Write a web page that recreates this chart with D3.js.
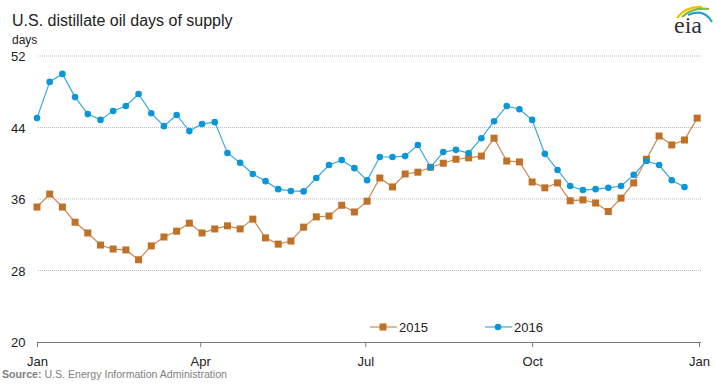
<!DOCTYPE html>
<html>
<head>
<meta charset="utf-8">
<script src="https://cdn.jsdelivr.net/npm/d3@7"></script>
<style>
  body { margin: 0; background: #fff; }
  svg { font-family: "Liberation Sans", Arial, sans-serif; display: block; }
</style>
</head>
<body>
<div id="chart"></div>
<script>
// weekly values, days of supply
const values2015 = [35.1, 36.55, 35.1, 33.4, 32.2, 30.85, 30.4, 30.3, 29.2, 30.75, 31.75, 32.4, 33.3,
  32.2, 32.65, 33.0, 32.65, 33.75, 31.65, 30.95, 31.3, 32.85, 34.0, 34.1, 35.3, 34.55, 35.75,
  38.35, 37.35, 38.8, 39.0, 39.55, 40.0, 40.45, 40.6, 40.8, 42.8, 40.25, 40.15, 37.9, 37.25,
  37.8, 35.8, 35.9, 35.55, 34.6, 36.1, 37.8, 40.45, 43.05, 42.05, 42.6, 45.05];
const values2016 = [45.05, 49.1, 50.0, 47.4, 45.5, 44.85, 45.85, 46.4, 47.75, 45.6, 44.15, 45.4, 43.6,
  44.4, 44.6, 41.15, 40.05, 38.8, 38.0, 37.1, 36.9, 36.85, 38.35, 39.8, 40.35, 39.45, 38.1,
  40.7, 40.7, 40.8, 42.05, 39.55, 41.25, 41.5, 41.15, 42.8, 44.7, 46.4, 46.05, 44.85, 41.05,
  39.25, 37.45, 37.0, 37.1, 37.25, 37.45, 38.7, 40.25, 39.8, 38.1, 37.35];
const yTicks = [20, 28, 36, 44, 52];
const monthLabels = ["Jan", "Apr", "Jul", "Oct", "Jan"];

const width = 719, height = 384;
const margin = {top: 56, right: 20, bottom: 42, left: 37};
const colors = {s2015: "#bf7127", s2015Line: "#c98a4e", s2016: "#0b96d8", s2016Line: "#3aa9de"};

const svg = d3.select("#chart").append("svg").attr("width", width).attr("height", height);

// both years share one Jan..Jan axis, points by week of year
const start = new Date(2015, 0, 1);
const weekDate = i => d3.timeDay.offset(start, i * 7);

const x = d3.scaleTime()
  .domain([start, new Date(2016, 0, 1)])
  .range([margin.left, 699]);
const y = d3.scaleLinear()
  .domain([20, 52])
  .range([height - margin.bottom, margin.top]);

// title and units
svg.append("text").attr("x", 12).attr("y", 26)
  .style("font-size", "16px").attr("fill", "#222")
  .text("U.S. distillate oil days of supply");
svg.append("text").attr("x", 12).attr("y", 44)
  .style("font-size", "12px").attr("fill", "#222")
  .text("days");

// grid lines
svg.append("g")
  .selectAll("line")
  .data(yTicks.filter(d => d > 20))
  .join("line")
  .attr("x1", 38).attr("x2", 702)
  .attr("y1", d => y(d)).attr("y2", d => y(d))
  .attr("stroke", "#bdbdbd").attr("stroke-dasharray", "1,1");

// y labels
svg.append("g")
  .selectAll("text")
  .data(yTicks)
  .join("text")
  .attr("x", 11).attr("y", d => y(d) + 5)
  .style("font-size", "13px").attr("fill", "#222")
  .text(d => d);

// x axis
const xAxis = svg.append("g")
  .attr("transform", `translate(0,${y(20)})`)
  .call(d3.axisBottom(x).ticks(d3.timeMonth.every(3)).tickSize(5)
    .tickFormat((d, i) => monthLabels[i]));
xAxis.select(".domain").attr("stroke", "#7a7a7a").attr("d", `M${x.range()[0]},0.5H701`);
xAxis.selectAll(".tick line").attr("stroke", "#7a7a7a");
xAxis.selectAll(".tick text")
  .style("font-size", "13px").style("font-family", "'Liberation Sans', Arial, sans-serif")
  .attr("fill", "#222").attr("dy", "1.2em");

const line = d3.line().x((d, i) => x(weekDate(i))).y(d => y(d));

// 2015
svg.append("path").datum(values2015)
  .attr("d", line).attr("fill", "none")
  .attr("stroke", colors.s2015Line).attr("stroke-width", 1.2);
svg.append("g").selectAll("rect")
  .data(values2015)
  .join("rect")
  .attr("x", (d, i) => x(weekDate(i)) - 3.5)
  .attr("y", d => y(d) - 3.5)
  .attr("width", 7).attr("height", 7)
  .attr("fill", colors.s2015);

// 2016
svg.append("path").datum(values2016)
  .attr("d", line).attr("fill", "none")
  .attr("stroke", colors.s2016Line).attr("stroke-width", 1.2);
svg.append("g").selectAll("circle")
  .data(values2016)
  .join("circle")
  .attr("cx", (d, i) => x(weekDate(i)))
  .attr("cy", d => y(d))
  .attr("r", 3.3)
  .attr("fill", colors.s2016);

// legend
const legend = [
  {label: "2015", x: 370, color: colors.s2015, line: colors.s2015Line, shape: "square"},
  {label: "2016", x: 485, color: colors.s2016, line: colors.s2016Line, shape: "circle"}
];
const lg = svg.append("g").selectAll("g").data(legend).join("g")
  .attr("transform", d => `translate(${d.x},327)`);
lg.append("line").attr("x1", 0).attr("x2", 27)
  .attr("stroke", d => d.line).attr("stroke-width", 1.2);
lg.filter(d => d.shape === "square").append("rect")
  .attr("x", 9.5).attr("y", -3.5).attr("width", 7).attr("height", 7)
  .attr("fill", d => d.color);
lg.filter(d => d.shape === "circle").append("circle")
  .attr("cx", 13).attr("r", 3.3).attr("fill", d => d.color);
lg.append("text").attr("x", 29).attr("y", 5)
  .style("font-size", "13px").attr("fill", "#222")
  .text(d => d.label);

// source
const src = svg.append("text").attr("x", 2).attr("y", 378)
  .style("font-size", "10.6px").attr("fill", "#7f7f7f");
src.append("tspan").attr("font-weight", "bold").text("Source:");
src.append("tspan").text(" U.S. Energy Information Administration");

// eia logo
const logo = svg.append("g").attr("transform", "translate(672,0)");
logo.append("path").attr("d", "M5,18 Q14,6 30,7").attr("fill", "none")
  .attr("stroke", "#f2c500").attr("stroke-width", 2.2);
logo.append("path").attr("d", "M10,17 Q20,7 37,9").attr("fill", "none")
  .attr("stroke", "#7dbb42").attr("stroke-width", 2.2);
logo.append("path").attr("d", "M16,15 Q32,8 40,22").attr("fill", "none")
  .attr("stroke", "#2a9fd8").attr("stroke-width", 2.2);
logo.append("text").attr("x", 2).attr("y", 33)
  .style("font-family", "'Liberation Serif', 'DejaVu Serif', serif")
  .style("font-size", "24px").attr("fill", "#333")
  .text("eia");
</script>
</body>
</html>
